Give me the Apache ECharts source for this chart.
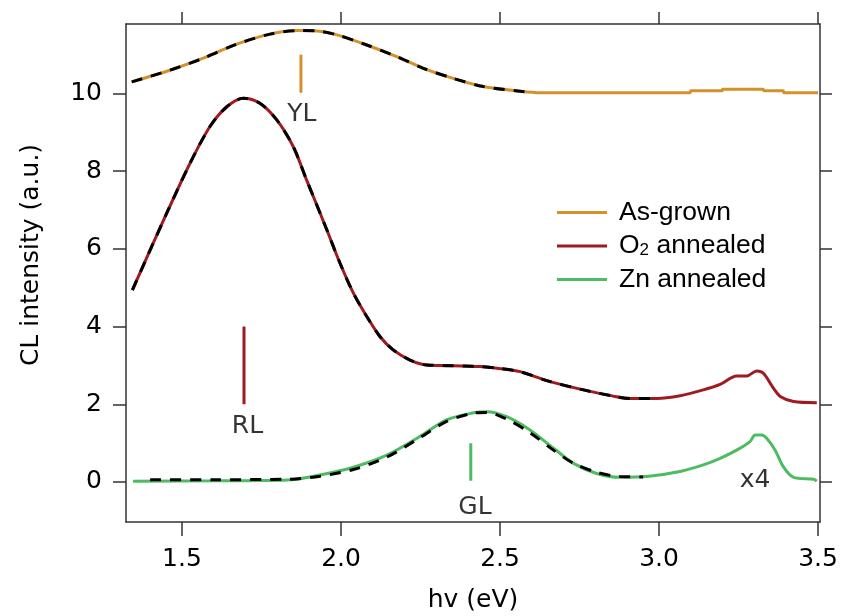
<!DOCTYPE html>
<html>
<head>
<meta charset="utf-8">
<script src="https://cdn.jsdelivr.net/npm/echarts@6/dist/echarts.min.js"></script>
<style>
  html, body { margin: 0; padding: 0; background: #fff; }
  #main { width: 841px; height: 616px; }
</style>
</head>
<body>
<div id="main"></div>
<script>
var xTicks = [1.5, 2.0, 2.5, 3.0, 3.5]
var yTicks = [0, 2, 4, 6, 8, 10]

// As-grown (offset +10)
var asGrownE = [1.342, 1.462, 1.567, 1.672, 1.777, 1.861, 1.924, 1.987, 2.081, 2.175, 2.259, 2.353, 2.447, 2.563, 2.626, 2.80, 3.00, 3.097, 3.10, 3.198, 3.20, 3.327, 3.33, 3.39, 3.393, 3.50]
var asGrownI = [10.30, 10.60, 10.91, 11.27, 11.53, 11.62, 11.61, 11.51, 11.25, 10.95, 10.65, 10.39, 10.18, 10.06, 10.02, 10.02, 10.02, 10.02, 10.07, 10.07, 10.11, 10.11, 10.07, 10.07, 10.02, 10.02]

// O2 annealed (offset +2)
var o2E = [1.344, 1.452, 1.525, 1.588, 1.641, 1.693, 1.745, 1.798, 1.850, 1.892, 1.913, 1.955, 1.997, 2.039, 2.081, 2.123, 2.164, 2.217, 2.270, 2.311, 2.437, 2.490, 2.563, 2.647, 2.752, 2.856, 2.909, 2.993, 3.066, 3.139, 3.192, 3.244, 3.276, 3.307, 3.328, 3.360, 3.381, 3.423, 3.496]
var o2I = [4.94, 6.92, 8.20, 9.15, 9.66, 9.88, 9.75, 9.32, 8.63, 7.77, 7.35, 6.50, 5.63, 4.86, 4.26, 3.74, 3.40, 3.14, 3.01, 3.00, 2.97, 2.93, 2.84, 2.61, 2.39, 2.21, 2.15, 2.15, 2.22, 2.37, 2.51, 2.73, 2.73, 2.86, 2.80, 2.41, 2.20, 2.07, 2.04]

// Zn annealed (x4)
var znE = [1.346, 1.60, 1.83, 1.934, 2.039, 2.144, 2.248, 2.332, 2.416, 2.458, 2.521, 2.594, 2.668, 2.731, 2.804, 2.877, 2.961, 3.066, 3.139, 3.192, 3.244, 3.286, 3.302, 3.323, 3.339, 3.365, 3.391, 3.423, 3.486, 3.496]
var znI = [0.02, 0.03, 0.05, 0.18, 0.38, 0.69, 1.17, 1.60, 1.78, 1.81, 1.68, 1.34, 0.87, 0.48, 0.22, 0.12, 0.14, 0.27, 0.44, 0.61, 0.82, 1.04, 1.21, 1.21, 1.12, 0.82, 0.39, 0.12, 0.07, 0.02]

// fits (black dashed)
var asGrownFitE = [1.342, 1.462, 1.567, 1.672, 1.777, 1.861, 1.924, 1.987, 2.081, 2.175, 2.259, 2.353, 2.447, 2.563, 2.60]
var asGrownFitI = [10.30, 10.60, 10.91, 11.27, 11.53, 11.62, 11.61, 11.51, 11.25, 10.95, 10.65, 10.39, 10.18, 10.06, 10.03]
var o2FitE = [1.344, 1.452, 1.525, 1.588, 1.641, 1.693, 1.745, 1.798, 1.850, 1.892, 1.913, 1.955, 1.997, 2.039, 2.081, 2.123, 2.164, 2.217, 2.270, 2.311, 2.437, 2.490, 2.563, 2.647, 2.752, 2.856, 2.909, 2.98]
var o2FitI = [4.94, 6.92, 8.20, 9.15, 9.66, 9.88, 9.75, 9.32, 8.63, 7.77, 7.35, 6.50, 5.63, 4.86, 4.26, 3.74, 3.40, 3.14, 3.01, 3.00, 2.97, 2.93, 2.84, 2.61, 2.39, 2.21, 2.15, 2.15]
var znFitE = [1.40, 1.60, 1.83, 1.934, 2.039, 2.144, 2.248, 2.332, 2.416, 2.458, 2.521, 2.594, 2.668, 2.731, 2.804, 2.877, 2.95]
var znFitI = [0.06, 0.06, 0.07, 0.15, 0.32, 0.64, 1.14, 1.56, 1.77, 1.79, 1.62, 1.27, 0.82, 0.48, 0.25, 0.14, 0.13]

// peak markers
var markerNames = ['YL', 'RL', 'GL']
var markerE = [1.874, 1.695, 2.408]
var markerLow = [10.02, 2.0, 0.03]
var markerHigh = [11.0, 4.0, 1.0]

// text labels
var noteText = ['YL', 'RL', 'GL', 'x4']
var noteE = [1.877, 1.706, 2.421, 3.302]
var noteI = [9.47, 1.42, -0.66, 0.04]

var colors = ['#D4912B', '#9E1B20', '#4DBB62']
var names = ['As-grown', 'O2 annealed', 'Zn annealed']

function pairs(xs, ys) {
  return xs.map(function (x, i) { return [x, ys[i]] })
}

var font = 'DejaVu Sans'
var series = []

// measured curves
;[[asGrownE, asGrownI], [o2E, o2I], [znE, znI]].forEach(function (d, i) {
  series.push({
    name: names[i],
    type: 'line',
    data: pairs(d[0], d[1]),
    smooth: 0.3,
    showSymbol: false,
    z: 2,
    lineStyle: { color: colors[i], width: 3 },
    itemStyle: { color: colors[i] }
  })
})

// fits
;[[asGrownFitE, asGrownFitI], [o2FitE, o2FitI], [znFitE, znFitI]].forEach(function (d) {
  series.push({
    type: 'line',
    data: pairs(d[0], d[1]),
    smooth: 0.3,
    showSymbol: false,
    z: 3,
    silent: true,
    lineStyle: { color: '#000', width: 3, type: [11, 9] }
  })
})

// marker ticks
markerNames.forEach(function (n, i) {
  series.push({
    type: 'line',
    data: [[markerE[i], markerLow[i]], [markerE[i], markerHigh[i]]],
    showSymbol: false,
    z: 2,
    silent: true,
    lineStyle: { color: colors[i], width: 3 }
  })
})

// text notes
series.push({
  type: 'scatter',
  symbolSize: 0,
  silent: true,
  data: noteE.map(function (x, i) { return { value: [x, noteI[i]], name: noteText[i] } }),
  label: {
    show: true,
    position: 'inside',
    formatter: function (p) { return p.name },
    color: '#000',
    fontFamily: font,
    fontSize: 25
  }
})

var chart = echarts.init(document.getElementById('main'))
chart.setOption({
  animation: false,
  backgroundColor: '#fff',
  grid: { left: 126, right: 21, top: 24, bottom: 94, outerBoundsMode: 'none' },
  legend: {
    data: names,
    orient: 'vertical',
    left: 557,
    top: 199,
    padding: 0,
    itemGap: 6.5,
    itemWidth: 50,
    itemHeight: 3,
    icon: 'rect',
    formatter: function (n) {
      if (n === 'O2 annealed') return '{a|O}{s|2}{a| annealed}'
      return '{a|' + n + '}'
    },
    textStyle: {
      color: '#000',
      padding: [0, 0, 0, 7],
      rich: {
        a: { fontFamily: 'Liberation Sans', fontSize: 26.5, lineHeight: 26, color: '#000' },
        s: { fontFamily: 'Liberation Sans', fontSize: 17, lineHeight: 14, verticalAlign: 'bottom', color: '#000' }
      }
    }
  },
  xAxis: [{
    type: 'value',
    min: 1.324,
    max: 3.506,
    name: 'hv (eV)',
    nameLocation: 'middle',
    nameGap: 66,
    nameTextStyle: { fontFamily: font, fontSize: 25, color: '#000' },
    axisLine: { show: true, onZero: false, lineStyle: { color: '#333', width: 1.5 } },
    axisTick: { show: true, length: 14, customValues: xTicks, lineStyle: { color: '#333', width: 1.5 } },
    axisLabel: {
      customValues: xTicks,
      margin: 25,
      fontFamily: font,
      fontSize: 25,
      color: '#000',
      formatter: function (v) { return v.toFixed(1) }
    },
    splitLine: { show: false }
  }, {
    type: 'value',
    position: 'top',
    min: 1.324,
    max: 3.506,
    axisLine: { show: true, onZero: false, lineStyle: { color: '#333', width: 1.5 } },
    axisTick: { show: true, length: 12, customValues: xTicks, lineStyle: { color: '#333', width: 1.5 } },
    axisLabel: { show: false, customValues: xTicks },
    splitLine: { show: false }
  }],
  yAxis: [{
    type: 'value',
    min: -1.03,
    max: 11.79,
    name: 'CL intensity (a.u.)',
    nameLocation: 'middle',
    nameGap: 82,
    nameRotate: 90,
    nameTextStyle: { fontFamily: font, fontSize: 25, color: '#000', padding: [0, 0, 0, 36] },
    axisLine: { show: true, onZero: false, lineStyle: { color: '#333', width: 1.5 } },
    axisTick: { show: true, length: 13, customValues: yTicks, lineStyle: { color: '#333', width: 1.5 } },
    axisLabel: { customValues: yTicks, margin: 24, fontFamily: font, fontSize: 25, color: '#000' },
    splitLine: { show: false }
  }, {
    type: 'value',
    position: 'right',
    min: -1.03,
    max: 11.79,
    axisLine: { show: true, onZero: false, lineStyle: { color: '#333', width: 1.5 } },
    axisTick: { show: true, length: 12, customValues: yTicks, lineStyle: { color: '#333', width: 1.5 } },
    axisLabel: { show: false, customValues: yTicks },
    splitLine: { show: false }
  }],
  series: series
})
</script>
</body>
</html>
